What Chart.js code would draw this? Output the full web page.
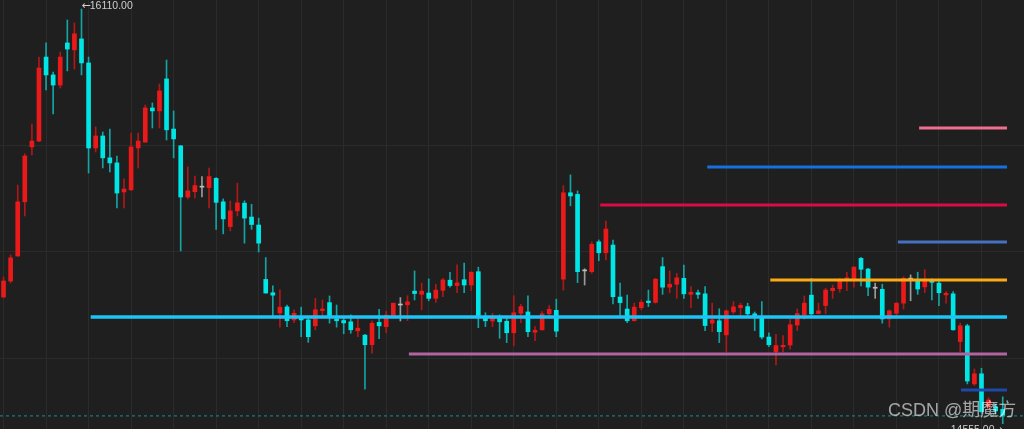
<!DOCTYPE html>
<html><head><meta charset="utf-8">
<script src="https://cdn.jsdelivr.net/npm/chart.js@4.4.1/dist/chart.umd.min.js"></script>
<style>
html,body{margin:0;padding:0;background:#1f1f1f;overflow:hidden}
#wrap{position:relative;width:1024px;height:429px}
#c{position:absolute;left:0;top:0}
#wm{position:absolute;left:888px;top:398px;font-size:18px;font-family:"Liberation Sans","Noto Sans CJK SC",sans-serif;color:rgba(255,255,255,0.6);line-height:24px;white-space:nowrap;pointer-events:none}
</style></head><body>
<div id="wrap"><canvas id="c" width="1024" height="429"></canvas><div id="wm">CSDN @期魔方</div></div>
<script>
// ---- data ----
const opens  = [15030,15090,15184,15387,15593,15615,15930,15863,15825,15983,15957,15998,15908,15589,15634,15552,15533,15424,15432,15589,15611,15739,15728,15848,15660,15597,15405,15425,15442,15440,15475,15387,15294,15353,15382,15330,15300,15096,15046,14970,14993,14944,14953,14944,14922,14979,15009,14948,14942,14937,14903,14887,14851,14935,14919,14959,15000,15001,15052,15040,15045,15025,15055,15093,15073,15095,15075,15125,14953,14940,14953,14939,14896,14969,14974,14898,14907,14967,14980,15097,15421,15415,15128,15125,15237,15196,15225,15030,14985,14941,14990,15015,15010,15144,15067,15078,15100,15040,15046,15042,14932,14941,14888,14974,14990,14994,14967,14954,14880,14825,14843,14850,14925,14963,15037,14968,14998,15054,15061,15093,15098,15175,15135,15063,15059,14948,14969,15007,15097,15094,15068,15093,15082,15038,15042,14863,14922,14704,14742,14619,14618,14609];
const highs  = [15105,15188,15450,15567,15679,15930,15983,15874,15949,16069,16058,16110,15930,15668,15649,15660,15559,15473,15645,15645,15750,15758,15829,15919,15728,15598,15518,15484,15482,15514,15478,15398,15390,15457,15391,15378,15326,15178,15072,15057,15000,14982,14992,14953,15025,15019,15034,15000,14955,14963,14948,14890,14941,14984,14977,15007,15028,15035,15128,15082,15098,15078,15100,15123,15151,15157,15125,15142,14971,14969,14963,14956,15035,15003,15034,14919,14975,14998,15022,15448,15488,15428,15136,15237,15244,15315,15244,15082,15037,15007,15019,15056,15100,15178,15128,15119,15150,15069,15056,15069,15007,14986,14982,15013,15007,15007,14974,15013,14896,14890,14885,14947,14985,15034,15100,15007,15063,15075,15100,15123,15144,15179,15138,15082,15078,14982,15009,15106,15113,15123,15132,15098,15097,15050,15050,14932,14928,14760,14763,14653,14629,14656];
const lows   = [15027,15083,15182,15334,15563,15613,15807,15717,15814,15878,15885,15863,15495,15574,15514,15499,15364,15364,15430,15514,15610,15664,15664,15619,15552,15203,15398,15402,15405,15364,15284,15267,15278,15334,15232,15284,15199,15044,14956,14917,14919,14934,14881,14860,14907,14950,14932,14917,14892,14894,14881,14684,14819,14874,14896,14956,14940,14941,15019,14982,15016,15010,15031,15067,15046,15046,15054,14915,14919,14919,14875,14859,14848,14934,14881,14866,14906,14950,14881,15056,15372,15084,15075,15119,15166,15169,15004,14959,14934,14940,14982,14994,15007,15040,15046,15025,15025,14990,15025,14904,14900,14859,14825,14967,14954,14962,14904,14873,14844,14775,14825,14834,14904,14947,14959,14967,14967,15025,15048,15054,15067,15072,15035,15025,14932,14917,14960,14985,15016,15040,15046,15019,14998,15007,14906,14825,14704,14698,14594,14613,14592,14555];
const closes = [15090,15177,15387,15559,15615,15889,15863,15825,15930,15960,16017,15908,15589,15634,15552,15533,15420,15435,15593,15615,15739,15728,15803,15657,15623,15405,15428,15448,15442,15482,15385,15323,15353,15383,15326,15302,15232,15045,15037,14992,14941,14969,14944,14881,14982,14985,14953,14941,14933,14907,14913,14851,14932,14922,14962,15007,15000,15012,15043,15052,15025,15056,15094,15073,15083,15075,15123,14956,14941,14953,14937,14896,14971,14994,14900,14905,14967,14984,14902,15421,15409,15125,15128,15228,15196,15285,15031,15009,14941,14992,15010,15009,15097,15067,15078,15102,15042,15048,15040,14923,14944,14900,14978,14993,14999,14967,14956,14880,14851,14848,14849,14926,14968,15007,14967,14978,15056,15063,15093,15102,15142,15134,15067,15063,14948,14978,15007,15100,15097,15060,15090,15085,15046,15044,14907,14922,14715,14742,14600,14644,14603,14584];
// horizontal levels: price and the candle index where each starts
const levelPrices = [15664,15518,15375,15236,15094,14955,14816,14681];
const levelStarts = [129.2,99.3,84.2,126.2,108.2,12.3,57.2,135.1];
const levelEnd = 141.6;
const gridPrices = [14800,15200,15600];
const gridEvery = 6;

// ---- styles ----
const levelColors = ['#ef6f8f','#1570e0','#dc0a46','#4670c0','#fbaa14','#1dc4f7','#b065a0','#1f48a8'];
const levelWidths = [3,3,3,3,3,3.5,3,3];
const UP='#ea1a1a', DOWN='#00e6e6', DOJI='#bdbdbd';
const UPW='#b01818', DOWNW='#14a4a4', DOJIW='#9a9a9a';

const n = opens.length;
const bodyCol = opens.map((o,i)=> closes[i]>o?UP:(closes[i]<o?DOWN:DOJI));
const wickCol = opens.map((o,i)=> closes[i]>o?UPW:(closes[i]<o?DOWNW:DOJIW));

const datasets = [];
levelPrices.forEach((p,k)=>{
  datasets.push({type:'line', data:[{x:levelStarts[k],y:p},{x:levelEnd,y:p}], borderColor:levelColors[k], borderWidth:levelWidths[k], pointRadius:0, order:0, borderCapStyle:'butt'});
});
datasets.push({type:'line', data:[{x:-0.5,y:closes[n-1]},{x:144,y:closes[n-1]}], borderColor:'#169090', borderWidth:1, borderDash:[3,3], pointRadius:0, order:0});
datasets.push({type:'bar', data:opens.map((o,i)=>({x:i,y:[opens[i],closes[i]]})), backgroundColor:bodyCol, barThickness:4, minBarLength:1, grouped:false, order:1});
datasets.push({type:'bar', data:opens.map((o,i)=>({x:i,y:[lows[i],highs[i]]})), backgroundColor:wickCol, barThickness:1, grouped:false, order:2});

const labelPlugin = {
  id:'hl',
  afterDatasetsDraw(chart){
    const {ctx, scales:{x,y}} = chart;
    let hi=0, lo=0;
    highs.forEach((v,i)=>{ if(v>highs[hi]) hi=i; });
    lows.forEach((v,i)=>{ if(v<lows[lo]) lo=i; });
    const arrowFont='11px "DejaVu Sans",sans-serif';
    const numFont='10.5px "Liberation Sans","DejaVu Sans",sans-serif';
    ctx.save();
    ctx.fillStyle='#d0d0d0';
    ctx.textBaseline='alphabetic';
    ctx.textAlign='left';
    // top label: arrow then number
    let px = x.getPixelForValue(hi), py = y.getPixelForValue(highs[hi])-0.5;
    ctx.font=arrowFont; ctx.fillText('\u2190', px, py);
    const aw = ctx.measureText('\u2190').width;
    ctx.font=numFont; ctx.fillText(highs[hi].toFixed(2), px+aw-1, py);
    // bottom label: number then arrow, ending at the point
    px = x.getPixelForValue(lo); py = y.getPixelForValue(lows[lo])+9.5;
    ctx.font=arrowFont; const aw2 = ctx.measureText('\u2192').width;
    ctx.textAlign='right';
    ctx.fillText('\u2192', px, py);
    ctx.font=numFont; ctx.fillText(lows[lo].toFixed(2), px-aw2+1, py);
    ctx.restore();
  }
};

new Chart(document.getElementById('c'), {
  type:'bar',
  data:{datasets},
  plugins:[labelPlugin],
  options:{
    responsive:false, animation:false, devicePixelRatio:1,
    layout:{padding:0},
    plugins:{legend:{display:false}, tooltip:{enabled:false}},
    scales:{
      x:{type:'linear', min:-0.5, max:144, offset:false,
         afterBuildTicks(s){ const t=[]; for(let i=0;i<n;i+=gridEvery) t.push({value:i}); s.ticks=t; },
         ticks:{display:false}, border:{display:false},
         grid:{color:'#2b2b2b', lineWidth:1, drawTicks:false, offset:false}},
      y:{type:'linear', min:14535, max:16144,
         afterBuildTicks(s){ s.ticks=gridPrices.map(v=>({value:v})); },
         ticks:{display:false}, border:{display:false},
         grid:{color:'#2b2b2b', lineWidth:1, drawTicks:false}}
    }
  }
});
</script>
</body></html>
